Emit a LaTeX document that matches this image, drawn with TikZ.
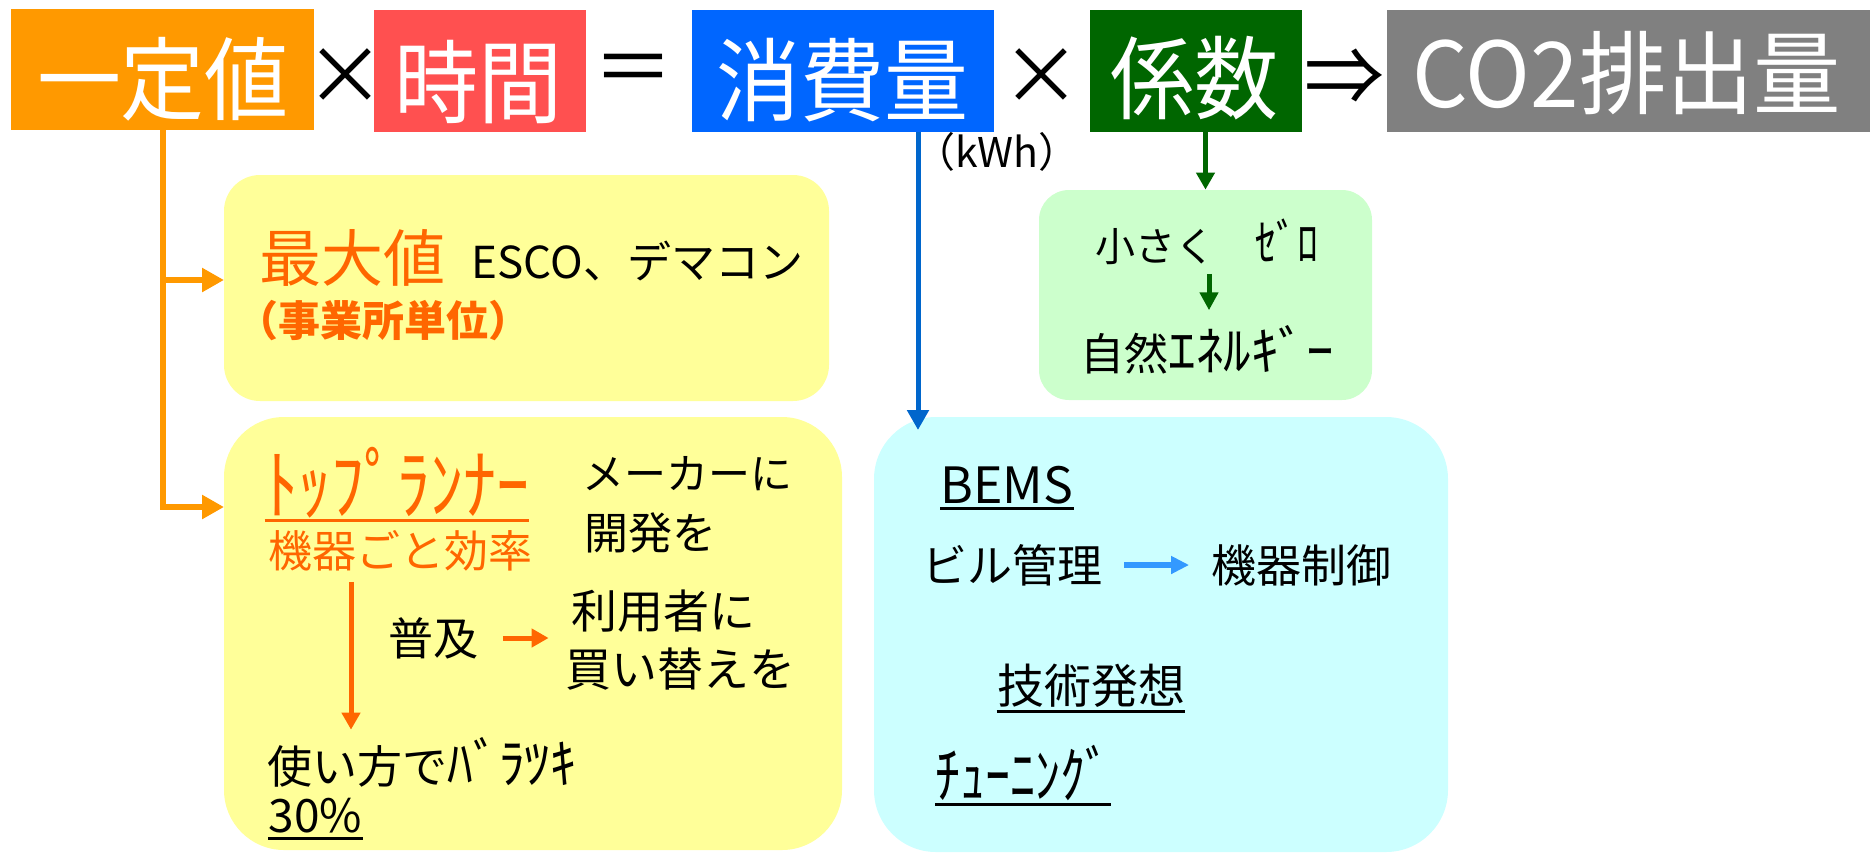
\documentclass[tikz,border=0pt]{standalone}
\usepackage{fontspec}
\setmainfont{Noto Sans CJK JP}
\usetikzlibrary{arrows.meta,calc}
\definecolor{cOrange}{HTML}{FF9900}
\definecolor{cRed}{HTML}{FF5050}
\definecolor{cBlue}{HTML}{0066FF}
\definecolor{cGreen}{HTML}{006600}
\definecolor{cGray}{HTML}{808080}
\definecolor{cOrText}{HTML}{FF6600}
\definecolor{cYellow}{HTML}{FFFF99}
\definecolor{cCyan}{HTML}{CCFFFF}
\definecolor{cLGreen}{HTML}{CCFFCC}
\definecolor{cBlueLine}{HTML}{0066CC}
\definecolor{cLBlue}{HTML}{3399FF}
\newcommand{\myfs}[1]{\fontsize{#1pt}{#1pt}\selectfont}
\newcommand{\hwk}[3]{\scalebox{#1}[#2]{#3}}
\begin{document}
\begin{tikzpicture}[x=0.5pt,y=-0.5pt,
  box/.style={rectangle, draw=none, inner sep=0pt},
  toptext/.style={inner sep=0pt, text=white, font=\myfs{42}},
  optext/.style={inner sep=0pt, text=black, font=\myfs{40}},
  txt/.style={inner sep=0pt},
  ul/.style={line width=1.6pt},
  oline/.style={draw=cOrange, line width=3pt, -{Triangle[length=11pt,width=11.5pt]}},
  bline/.style={draw=cBlueLine, line width=2.5pt, -{Triangle[length=10pt,width=10.5pt]}},
  gline/.style={draw=cGreen, line width=2.5pt, -{Triangle[length=8.5pt,width=9pt]}},
  ora/.style={draw=cOrText, line width=2.5pt, -{Triangle[length=8.5pt,width=9pt]}},
  lba/.style={draw=cLBlue, line width=3pt, -{Triangle[length=9pt,width=8.5pt]}},
  gsa/.style={draw=cGreen, line width=2.5pt, -{Triangle[length=9pt,width=9pt]}}
]
\useasboundingbox (0,0) rectangle (1870,853);
% top row boxes
\node[box, fill=cOrange, minimum width=151.5pt, minimum height=60.5pt] (o1) at (162.5,69.5) {};
\node[box, fill=cRed, minimum width=106pt, minimum height=61pt] (r1) at (480,71) {};
\node[box, fill=cBlue, minimum width=151pt, minimum height=61pt] (c1) at (843,71) {};
\node[box, fill=cGreen, minimum width=106pt, minimum height=61pt] (k1) at (1196,71) {};
\node[box, fill=cGray, minimum width=241.5pt, minimum height=61pt] (e1) at (1628.5,71) {};
\node[toptext] (o1t) at (163,79) {\scalebox{1}[1.08]{一定値}};
\node[toptext] (r1t) at (478.5,82) {\scalebox{1}[1.08]{時間}};
\node[toptext] (c1t) at (842,80) {\scalebox{1}[1.08]{消費量}};
\node[toptext] (k1t) at (1194.5,78) {\scalebox{1}[1.08]{係数}};
\node[toptext] (e1t) at (1627,73) {\scalebox{1.04}[1.08]{CO2排出量}};
\node[optext] (x1) at (345,77) {×};
\node[optext] (eq) at (633,75) {＝};
\node[optext] (x2) at (1041,77) {×};
\node[optext] (im) at (1344,77) {⇒};
\node[txt, font=\myfs{20.5}] (kwh) at (997,152) {（kWh）};
% rounded boxes
\node[box, fill=cYellow, rounded corners=18pt, minimum width=302.5pt, minimum height=113pt] (y1) at (526.5,288) {};
\node[box, fill=cYellow, rounded corners=30pt, minimum width=309pt, minimum height=216.5pt] (y2) at (533,633.5) {};
\node[box, fill=cCyan, rounded corners=31pt, minimum width=287pt, minimum height=217.5pt] (cy) at (1161,634.5) {};
\node[box, fill=cLGreen, rounded corners=15pt, minimum width=166.5pt, minimum height=105pt] (gb) at (1205.5,295) {};
% connectors from top row
\coordinate (b1) at (224,280);
\coordinate (b2) at (224,507);
\draw[oline] (o1.south) |- (b1);
\draw[oline] (o1.south) |- (b2);
\coordinate (bt) at (918,430);
\draw[bline] (c1.south -| bt) -- (bt);
\draw[gline] (k1.south -| gb.north) -- (gb.north);
% yellow box 1
\node[txt, text=cOrText, font=\myfs{31}] (mx) at (352,257.5) {最大値};
\node[txt, font=\myfs{22}] (esco) at (637.5,261.5) {ESCO、デマコン};
\node[txt, text=cOrText, font=\myfs{21}\bfseries] (jg) at (383,321) {（事業所単位）};
% yellow box 2
\node[txt, text=cOrText, font=\myfs{33}] (tr) at (397,483) {\hwk{1}{1.18}{ﾄｯﾌﾟﾗﾝﾅｰ}};
\draw[ul, draw=cOrText] ([yshift=-1pt]tr.south west) -- ([yshift=-1pt]tr.south east);
\node[txt, text=cOrText, font=\myfs{22}] (mk) at (400,551) {機器ごと効率};
\node[txt, font=\myfs{21}] (mkr) at (687,473.5) {メーカーに};
\node[txt, font=\myfs{22}] (kh) at (650.5,532.5) {開発を};
\node[txt, font=\myfs{22.5}] (fk) at (433.5,638) {普及};
\node[txt, font=\myfs{23}] (ry) at (663,611) {利用者に};
\node[txt, font=\myfs{23}] (kk) at (680,669) {買い替えを};
\node[txt, font=\myfs{22.5}] (tsu) at (422,762) {使い方で\hwk{1.15}{1.2}{ﾊﾞﾗﾂｷ}};
\node[txt, font=\myfs{23}] (pc) at (315.5,815.5) {30\%};
\draw[ul] ([yshift=-2.5pt]pc.south west) -- ([yshift=-2.5pt]pc.south east);
\coordinate (ax) at (351,0);
\draw[ora, shorten <=5pt, shorten >=3.5pt] (mk.south -| ax) -- (tsu.north -| ax);
\draw[ora, shorten <=12pt, shorten >=11pt] (fk.east) -- (fk.east -| ry.west);
% cyan box
\node[txt, font=\myfs{25}] (bems) at (1007,485) {BEMS};
\draw[ul] ([yshift=-2pt]bems.south west) -- ([yshift=-2pt]bems.south east);
\node[txt, font=\myfs{22.5}] (bl) at (1012,565) {ビル管理};
\node[txt, font=\myfs{22.5}] (ks) at (1301.5,565) {機器制御};
\draw[lba, shorten <=11pt, shorten >=11pt] (bl.east) -- (bl.east -| ks.west);
\node[txt, font=\myfs{23.5}] (gh) at (1091,686) {技術発想};
\draw[ul] ([yshift=-1.5pt]gh.south west) -- ([yshift=-1.5pt]gh.south east);
\node[txt, font=\myfs{25}] (tn) at (1023,773) {\hwk{1}{1.25}{ﾁｭｰﾆﾝｸﾞ}};
\draw[ul] ([yshift=-1.5pt]tn.south west) -- ([yshift=-1.5pt]tn.south east);
% green box
\node[txt, font=\myfs{20}] (gt1) at (1207,241.5) {小さく　\hwk{1.05}{1.25}{ｾﾞﾛ}};
\node[txt, font=\myfs{22}] (gt2) at (1207,350) {自然\hwk{1.25}{1.2}{ｴﾈﾙｷﾞｰ}};
\coordinate (gx) at (1209,0);
\draw[gsa, shorten <=4.5pt, shorten >=7.5pt] (gt1.south -| gx) -- (gt2.north -| gx);
\end{tikzpicture}
\end{document}
